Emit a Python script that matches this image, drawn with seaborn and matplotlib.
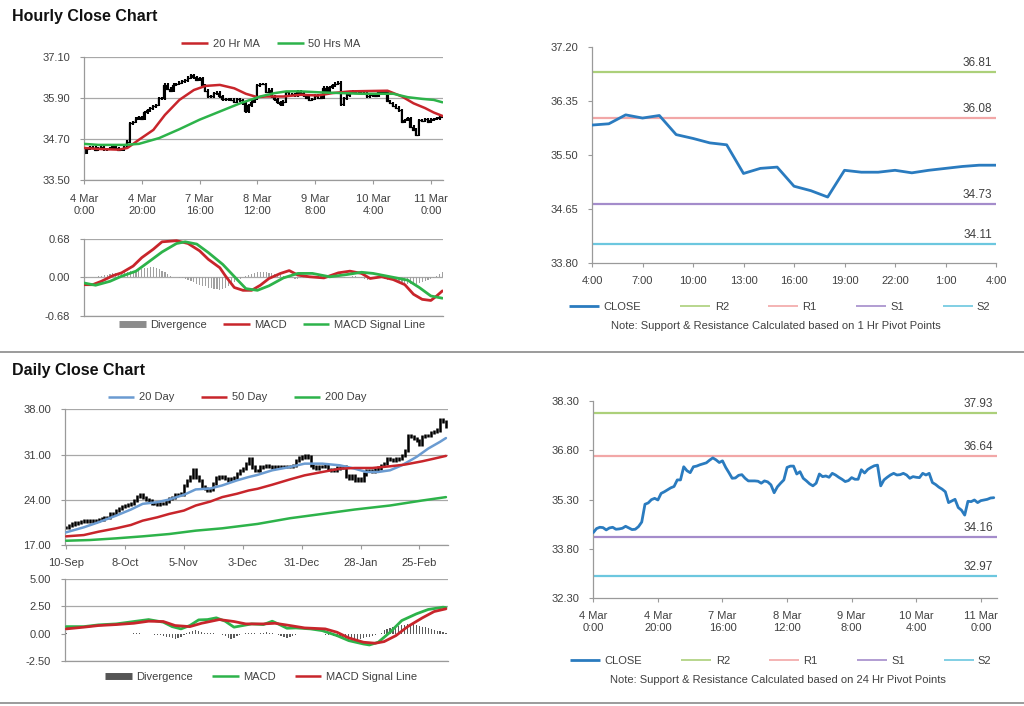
"""
Hourly and daily close charts: price bars with moving averages, MACD panels
and pivot-point support/resistance levels.
"""

import matplotlib
matplotlib.use('Agg')
import matplotlib.pyplot as plt
import seaborn as sns
import numpy as np
from matplotlib.lines import Line2D

# ---------------------------------------------------------------- data
# hourly closes, 4 Mar 0:00 -> 11 Mar 4:00 (one value per trading hour)
hourly_close = [
    34.30, 34.42, 34.46, 34.45, 34.38, 34.44, 34.46, 34.40, 34.41, 34.43,
    34.49, 34.44, 34.39, 34.40, 34.48, 34.62, 35.16, 35.20, 35.30, 35.34,
    35.29, 35.49, 35.54, 35.60, 35.66, 35.70, 35.90, 35.90, 36.30, 36.18,
    36.12, 36.30, 36.32, 36.36, 36.39, 36.42, 36.50, 36.57, 36.51, 36.43,
    36.48, 36.28, 36.12, 35.95, 35.96, 36.04, 36.06, 35.95, 35.87, 35.87,
    35.87, 35.86, 35.80, 35.87, 35.84, 35.75, 35.51, 35.69, 35.80, 35.90,
    36.28, 36.32, 36.32, 36.08, 36.15, 35.95, 35.87, 35.78, 35.72, 35.80,
    36.08, 36.00, 36.02, 35.98, 36.10, 36.05, 35.98, 35.92, 35.85, 35.88,
    35.97, 35.92, 35.92, 36.21, 36.11, 36.22, 36.28, 36.33, 36.35, 35.72,
    35.90, 35.98, 36.05, 36.10, 36.05, 36.06, 36.10, 36.05, 35.95, 36.00,
    35.98, 35.97, 36.10, 36.05, 36.10, 35.82, 35.76, 35.68, 35.62, 35.54,
    35.21, 35.26, 35.31, 35.06, 34.98, 34.83, 35.25, 35.24, 35.29, 35.21,
    35.27, 35.29, 35.31, 35.35, 35.36]
hourly_ticks = [0, 20, 40, 60, 80, 100, 120]
hourly_labels = ['4 Mar\n0:00', '4 Mar\n20:00', '7 Mar\n16:00', '8 Mar\n12:00',
                 '9 Mar\n8:00', '10 Mar\n4:00', '11 Mar\n0:00']

ma20_x = [0, 5, 12, 15, 19, 24, 28, 33, 38, 42, 47, 52, 56, 60, 63, 69, 75, 81,
          86, 92, 98, 105, 110, 114, 118, 121, 124]
ma20 = [34.44, 34.41, 34.39, 34.44, 34.68, 34.97, 35.41, 35.85, 36.14, 36.26,
        36.29, 36.19, 36.03, 35.93, 35.95, 35.95, 36.00, 35.98, 36.05, 36.10,
        36.11, 36.12, 35.95, 35.75, 35.61, 35.48, 35.38]
ma50_x = [0, 5, 14, 19, 26, 33, 40, 47, 54, 61, 66, 70, 75, 82, 89, 96, 103,
          107, 112, 117, 121, 124]
ma50 = [34.56, 34.53, 34.53, 34.56, 34.73, 34.99, 35.27, 35.51, 35.75, 35.95,
        36.05, 36.10, 36.10, 36.07, 36.05, 36.03, 36.03, 36.03, 35.93, 35.88,
        35.85, 35.78]

macd_h_x = [0, 3, 6, 10, 13, 17, 20, 24, 27, 32, 36, 40, 43, 47, 49, 52, 55, 58,
            61, 64, 68, 71, 74, 78, 83, 88, 92, 96, 99, 103, 107, 111, 114, 117,
            120, 122, 124]
macd_h = [-0.13, -0.13, -0.07, 0.03, 0.08, 0.20, 0.35, 0.50, 0.63, 0.65, 0.60,
          0.47, 0.32, 0.17, 0.02, -0.18, -0.23, -0.23, -0.14, -0.02, 0.07, 0.12,
          0.04, 0.01, -0.01, 0.08, 0.11, 0.07, -0.02, 0.01, -0.04, -0.13, -0.30,
          -0.39, -0.41, -0.33, -0.24]
signal_h_x = [0, 4, 9, 13, 18, 22, 27, 32, 35, 39, 43, 48, 53, 56, 60, 64, 69,
              74, 79, 85, 91, 96, 100, 106, 112, 116, 120, 124]
signal_h = [-0.10, -0.14, -0.07, 0.02, 0.11, 0.26, 0.45, 0.60, 0.63, 0.59, 0.44,
            0.23, -0.04, -0.20, -0.23, -0.15, -0.01, 0.07, 0.07, 0.01, 0.05,
            0.09, 0.07, 0.01, -0.05, -0.18, -0.33, -0.37]
diverg_h = [
    0.01, -0.01, 0.01, 0.0, 0.01, 0.02, 0.02,
    0.04, 0.05, 0.06, 0.07, 0.07, 0.08,
    0.08, 0.09, 0.10, 0.11, 0.12, 0.13, 0.14,
    0.15, 0.16, 0.17, 0.18, 0.18, 0.17, 0.15,
    0.12, 0.09, 0.06, 0.03,
    0.01, 0.0, -0.01, -0.02, -0.03,
    -0.05, -0.07, -0.09, -0.11, -0.13, -0.15, -0.16,
    -0.18, -0.19, -0.20, -0.21, -0.22, -0.21, -0.19, -0.16,
    -0.13, -0.09, -0.06, -0.03,
    0.0, 0.02, 0.04, 0.06,
    0.08, 0.09, 0.10, 0.10, 0.09, 0.08, 0.07,
    0.06, 0.05, 0.04, 0.03, 0.02,
    -0.01, -0.02, -0.03, -0.03, -0.02, -0.02, -0.01,
    0.0, 0.01, 0.01, 0.02, 0.02, 0.01, 0.0, 0.01, 0.02, 0.02, 0.01, 0.0,
    -0.01, 0.0, 0.01, 0.02, 0.02, 0.01,
    -0.02, -0.03, -0.04, -0.03, -0.02,
    -0.01, -0.01, -0.02, -0.03, -0.04,
    -0.05, -0.06, -0.07, -0.08, -0.09, -0.10, -0.11, -0.12, -0.12, -0.11,
    -0.10, -0.09, -0.07,
    -0.05, -0.03, -0.01,
    0.03, 0.06, 0.09]

# last 24 hours, 4:00 -> 4:00
day_hours = list(range(25))
day_close = [35.97, 35.99, 36.13, 36.08, 36.12, 35.82, 35.76, 35.69, 35.66,
             35.21, 35.29, 35.31, 35.01, 34.94, 34.84, 35.26, 35.23, 35.23,
             35.26, 35.22, 35.26, 35.29, 35.32, 35.34, 35.34]
day_ticks = [0, 3, 6, 9, 12, 15, 18, 21, 24]
day_labels = ['4:00', '7:00', '10:00', '13:00', '16:00', '19:00', '22:00',
              '1:00', '4:00']

pivot_names = ['R2', 'R1', 'S1', 'S2']
pivot_1h = [36.81, 36.08, 34.73, 34.11]
pivot_24h = [37.93, 36.64, 34.16, 32.97]

# daily closes, 10 Sep -> early Mar
daily_close = [
    19.74, 20.00, 20.26, 20.40, 20.52, 20.62, 20.70, 20.77, 20.67, 20.70,
    20.77, 20.90, 21.03, 21.20, 21.29, 21.81, 21.92, 22.30, 22.59, 23.00,
    23.11, 23.21, 23.37, 23.89, 24.56, 24.77, 24.41, 24.10, 23.89, 23.47,
    23.37, 23.26, 23.47, 23.47, 23.73, 24.15, 24.41, 24.77, 24.77, 24.90,
    26.22, 27.00, 27.52, 28.60, 27.52, 27.00, 25.96, 25.70, 25.44, 25.60,
    26.48, 27.36, 27.52, 27.52, 27.26, 27.00, 27.26, 27.50, 28.04, 28.56,
    28.81, 29.59, 30.37, 29.07, 28.56, 28.56, 29.07, 29.20, 29.33, 29.20,
    29.07, 29.18, 29.18, 29.18, 29.10, 29.18, 29.20, 29.33, 30.11, 30.47,
    30.63, 30.89, 30.63, 29.33, 29.07, 28.81, 29.18, 29.20, 29.33, 28.71,
    28.60, 28.56, 28.92, 29.00, 29.07, 27.67, 27.36, 27.67, 27.00, 27.20,
    27.00, 28.00, 28.56, 28.50, 28.40, 28.60, 28.92, 29.33, 29.60, 30.37,
    30.21, 30.11, 30.30, 30.37, 30.89, 31.67, 34.00, 33.74, 33.48, 33.22,
    32.60, 33.74, 34.00, 34.00, 34.40, 34.62, 34.78, 36.34, 36.08, 35.40]
daily_ticks = [0, 20, 40, 60, 80, 100, 120]
daily_labels = ['10-Sep', '8-Oct', '5-Nov', '3-Dec', '31-Dec', '28-Jan', '25-Feb']

ma20d_x = [0, 6, 11, 17, 22, 26, 31, 35, 40, 44, 49, 53, 58, 62, 65, 70, 76, 81,
           87, 93, 98, 102, 106, 110, 114, 119, 123, 127, 129]
ma20d = [18.96, 19.74, 20.52, 21.55, 22.49, 23.37, 23.63, 24.04, 24.77, 25.60,
         25.75, 26.22, 27.00, 27.52, 27.85, 28.56, 29.07, 29.59, 29.59, 29.33,
         28.81, 28.30, 28.30, 28.56, 29.33, 30.63, 31.93, 32.97, 33.55]
ma50d_x = [0, 6, 11, 17, 22, 26, 31, 35, 40, 44, 49, 53, 58, 62, 65, 70, 76, 81,
           87, 93, 98, 104, 110, 115, 121, 125, 129]
ma50d = [18.34, 18.54, 19.06, 19.58, 20.10, 20.77, 21.29, 21.81, 22.33, 23.11,
         23.73, 24.41, 24.93, 25.44, 25.70, 26.33, 27.15, 27.78, 28.30, 28.81,
         28.92, 28.92, 29.18, 29.44, 29.96, 30.37, 30.79]
ma200d_x = [0, 8, 17, 26, 35, 44, 53, 65, 76, 87, 98, 110, 121, 129]
ma200d = [17.66, 17.77, 18.03, 18.34, 18.70, 19.22, 19.58, 20.26, 21.14, 21.81,
          22.49, 23.11, 23.89, 24.41]

macd_d_x = [0, 6, 11, 17, 23, 28, 33, 36, 39, 42, 45, 48, 51, 54, 57, 60, 63, 67,
            70, 72, 75, 78, 83, 87, 92, 96, 101, 103, 106, 110, 114, 119, 123,
            128, 129]
macd_d = [0.64, 0.64, 0.80, 0.89, 1.11, 1.29, 1.05, 0.64, 0.43, 0.74, 1.26, 1.29,
          1.45, 1.14, 0.59, 0.74, 0.89, 0.83, 1.14, 0.89, 0.49, 0.52, 0.43, 0.27,
          -0.19, -0.65, -0.96, -1.05, -0.80, 0.12, 1.20, 1.82, 2.22, 2.43, 2.40]
signal_d_x = [0, 6, 11, 17, 23, 28, 33, 37, 42, 46, 52, 57, 61, 67, 71, 76, 81,
              88, 92, 96, 101, 105, 108, 112, 116, 121, 125, 129]
signal_d = [0.43, 0.59, 0.74, 0.83, 0.95, 1.14, 1.11, 0.74, 0.64, 0.95, 1.29,
            1.11, 0.89, 0.89, 0.95, 0.74, 0.52, 0.43, 0.12, -0.40, -0.80, -0.89,
            -0.74, -0.19, 0.64, 1.45, 2.03, 2.28]
diverg_d = [
    0.02, -0.02, -0.03, -0.03, -0.04, -0.04, -0.03, -0.04, -0.05, -0.04,
    -0.04, -0.05, -0.04, -0.03, -0.04, -0.05, -0.04, -0.03, -0.02, -0.03,
    -0.04, -0.03, -0.02, 0.02, 0.03, 0.02, -0.02, -0.04, -0.06, -0.08,
    -0.10, -0.13, -0.17, -0.22, -0.28, -0.35, -0.45, -0.50, -0.42, -0.30, -0.15,
    0.08, 0.18, 0.27, 0.30, 0.25, 0.15,
    0.06, 0.03, 0.02, 0.01, -0.02, -0.05, -0.12,
    -0.25, -0.38, -0.50, -0.42, -0.25,
    -0.10, -0.04, 0.02, 0.05, 0.04, 0.02, 0.0, 0.03, 0.07, 0.10,
    0.08, 0.04, -0.05, -0.12,
    -0.22, -0.32, -0.38, -0.32, -0.22, -0.12,
    -0.08, -0.06, -0.05, -0.06, -0.07, -0.06, -0.05, -0.06, -0.08, -0.10, -0.12,
    -0.15, -0.22, -0.28, -0.35, -0.42, -0.48, -0.52, -0.55, -0.58, -0.55,
    -0.50, -0.42, -0.35, -0.28, -0.20,
    -0.12, -0.05, 0.05,
    0.35, 0.45, 0.55, 0.62, 0.68, 0.72, 0.78, 0.82, 0.85, 0.88, 0.85, 0.80,
    0.72, 0.65, 0.58,
    0.50, 0.42, 0.35, 0.28, 0.20, 0.14, 0.08]

# ---------------------------------------------------------------- style
RED = '#c8252b'
GREEN = '#2db34a'
BLUE_MA = '#6a9bd1'
CLOSE_BLUE = '#2a7bbf'
LEVEL_COLORS = ['#acd07a', '#f2a7a7', '#a48ccb', '#6cc7df']
AXIS_GREY = '#9a9a9a'
GRID = '#a8a8a8'
TEXT = '#404040'

sns.set_theme(style='white')
plt.rcParams['font.family'] = ['Liberation Sans', 'DejaVu Sans']

W, H = 1024, 706
fig = plt.figure(figsize=(W / 100, H / 100), dpi=100)


def px_axes(left, top, right, bottom):
    """Axes placed by pixel edges of the 1024x706 canvas."""
    return fig.add_axes([left / W, 1 - bottom / H, (right - left) / W, (bottom - top) / H])


def style_axes(ax, grid=True):
    sns.despine(ax=ax, top=True, right=True)
    for side in ('left', 'bottom'):
        ax.spines[side].set_color(AXIS_GREY)
        ax.spines[side].set_linewidth(0.9)
    ax.tick_params(axis='both', length=3, width=0.8, color=AXIS_GREY,
                   labelsize=8, labelcolor=TEXT, left=True, bottom=True, pad=4)
    if grid:
        ax.yaxis.grid(True, color=GRID, lw=0.9)
    ax.set_axisbelow(True)


def add_legend(handles, labels, cx, cy, colsp, hl=2.4):
    fig.legend(handles, labels, loc='center', bbox_to_anchor=(cx / W, 1 - cy / H),
               ncol=len(handles), frameon=False, fontsize=8, handlelength=hl,
               handletextpad=0.4, columnspacing=colsp, borderpad=0,
               borderaxespad=0, labelcolor=TEXT)


def line(color, lw=1.8):
    return Line2D([], [], color=color, lw=lw, solid_capstyle='butt')


def price_bars(ax, x, close, pad, lw):
    close = np.asarray(close)
    prev = np.r_[close[0], close[:-1]]
    lo = np.minimum(prev, close) - pad
    hi = np.maximum(prev, close) + pad
    ax.vlines(x, lo, hi, color='black', lw=lw, zorder=2)


def pivot_panel(ax, x, close, levels, xlim, ylim, yticks, xticks, xlabels):
    for lvl, col in zip(levels, LEVEL_COLORS):
        ax.axhline(lvl, color=col, lw=1.6, zorder=1)
        ax.annotate(f'{lvl:.2f}', xy=(1, lvl), xycoords=('axes fraction', 'data'),
                    xytext=(-3, 2), textcoords='offset points', ha='right',
                    va='bottom', fontsize=8.5, color=TEXT)
    sns.lineplot(x=x, y=close, ax=ax, color=CLOSE_BLUE, lw=2, zorder=3)
    ax.set_xlim(*xlim)
    ax.set_ylim(*ylim)
    ax.set_yticks(yticks)
    ax.set_yticklabels([f'{v:.2f}' for v in yticks])
    ax.set_xticks(xticks)
    ax.set_xticklabels(xlabels, linespacing=1.25)
    ax.set_xlabel('')
    ax.set_ylabel('')
    style_axes(ax, grid=False)
    ax.tick_params(axis='y', pad=7)
    ax.tick_params(axis='x', pad=6)


# ---------------------------------------------------------------- hourly
hours = np.arange(len(hourly_close))

ax = px_axes(84, 57.3, 443, 180)
price_bars(ax, hours, hourly_close, 0.04, 1.5)
sns.lineplot(x=hours, y=hourly_close, ax=ax, color='black', lw=0.9,
             drawstyle='steps-mid', zorder=2)
sns.lineplot(x=ma20_x, y=ma20, ax=ax, color=RED, lw=1.8, zorder=3)
sns.lineplot(x=ma50_x, y=ma50, ax=ax, color=GREEN, lw=1.8, zorder=3)
ax.set_xlim(0, 124.2)
ax.set_ylim(33.5, 37.1)
yt = [33.50, 34.70, 35.90, 37.10]
ax.set_yticks(yt)
ax.set_yticklabels([f'{v:.2f}' for v in yt])
ax.set_xticks(hourly_ticks)
ax.set_xticklabels(hourly_labels, linespacing=1.25)
ax.set_xlabel('')
ax.set_ylabel('')
style_axes(ax)
ax.tick_params(axis='y', pad=7)
ax.tick_params(axis='x', pad=7)
add_legend([line(RED), line(GREEN)], ['20 Hr MA', '50 Hrs MA'], 271, 44, 1.6)

ax = px_axes(84, 239, 443, 315.7)
ax.bar(hours, diverg_h, width=0.4, color='#a0a0a0', linewidth=0, zorder=2)
sns.lineplot(x=macd_h_x, y=macd_h, ax=ax, color=RED, lw=2, zorder=3)
sns.lineplot(x=signal_h_x, y=signal_h, ax=ax, color=GREEN, lw=2, zorder=3)
ax.set_xlim(0, 124.2)
ax.set_ylim(-0.68, 0.68)
ax.set_yticks([-0.68, 0.0, 0.68])
ax.set_yticklabels(['-0.68', '0.00', '0.68'])
ax.set_xticks([])
ax.set_xlabel('')
ax.set_ylabel('')
style_axes(ax)
ax.tick_params(axis='y', pad=7)
add_legend([line('#8c8c8c', 5), line(RED), line(GREEN)],
           ['Divergence', 'MACD', 'MACD Signal Line'], 272, 325, 1.45)

# last 24 hours
ax = px_axes(592, 46.7, 996, 263.3)
pivot_panel(ax, day_hours, day_close, pivot_1h, (0, 24), (33.8, 37.2),
            [33.80, 34.65, 35.50, 36.35, 37.20], day_ticks, day_labels)
add_legend([line(CLOSE_BLUE, 2)] + [line(c, 1.2) for c in LEVEL_COLORS],
           ['CLOSE'] + pivot_names, 780, 306.5, 3.5, hl=2.7)
fig.text(776 / W, 1 - 326 / H,
         'Note: Support & Resistance Calculated based on 1 Hr Pivot Points',
         ha='center', va='center', fontsize=8, color=TEXT)

# ---------------------------------------------------------------- daily
days = np.arange(len(daily_close))

ax = px_axes(65, 409.3, 448.3, 545)
price_bars(ax, days, daily_close, 0.25, 1.8)
sns.lineplot(x=ma20d_x, y=ma20d, ax=ax, color=BLUE_MA, lw=1.8, zorder=3)
sns.lineplot(x=ma50d_x, y=ma50d, ax=ax, color=RED, lw=1.8, zorder=3)
sns.lineplot(x=ma200d_x, y=ma200d, ax=ax, color=GREEN, lw=1.8, zorder=3)
ax.set_xlim(-0.4, 129.8)
ax.set_ylim(17, 38)
yt = [17.0, 24.0, 31.0, 38.0]
ax.set_yticks(yt)
ax.set_yticklabels([f'{v:.2f}' for v in yt])
ax.set_xticks(daily_ticks)
ax.set_xticklabels(daily_labels)
ax.set_xlabel('')
ax.set_ylabel('')
style_axes(ax)
ax.tick_params(axis='y', pad=7)
ax.tick_params(axis='x', pad=6)
add_legend([line(BLUE_MA), line(RED), line(GREEN)],
           ['20 Day', '50 Day', '200 Day'], 237, 397.5, 2.4)

ax = px_axes(65, 579.3, 448.3, 660.7)
ax.bar(days, diverg_d, width=0.4, color='#5a5a5a', linewidth=0, zorder=2)
sns.lineplot(x=macd_d_x, y=macd_d, ax=ax, color=GREEN, lw=2, zorder=3)
sns.lineplot(x=signal_d_x, y=signal_d, ax=ax, color=RED, lw=2, zorder=3)
ax.set_xlim(-0.4, 129.8)
ax.set_ylim(-2.5, 5.0)
yt = [-2.5, 0.0, 2.5, 5.0]
ax.set_yticks(yt)
ax.set_yticklabels([f'{v:.2f}' for v in yt])
ax.set_xticks([])
ax.set_xlabel('')
ax.set_ylabel('')
style_axes(ax)
ax.get_ygridlines()[1].set_visible(False)
ax.tick_params(axis='y', pad=7)
add_legend([line('#555555', 5), line(GREEN), line(RED)],
           ['Divergence', 'MACD', 'MACD Signal Line'], 261, 676.5, 1.7)

# hourly close against 24 hr pivots
ax = px_axes(593.3, 401, 997, 598.3)
pivot_panel(ax, hours, hourly_close, pivot_24h, (0, 125), (32.3, 38.3),
            [32.30, 33.80, 35.30, 36.80, 38.30], hourly_ticks, hourly_labels)
add_legend([line(CLOSE_BLUE, 2)] + [line(c, 1.2) for c in LEVEL_COLORS],
           ['CLOSE'] + pivot_names, 781, 661, 3.5, hl=2.7)
fig.text(778 / W, 1 - 680 / H,
         'Note: Support & Resistance Calculated based on 24 Hr Pivot Points',
         ha='center', va='center', fontsize=8, color=TEXT)

# ---------------------------------------------------------------- frame
fig.text(12 / W, 1 - 16 / H, 'Hourly Close Chart', fontsize=11.5,
         fontweight='bold', va='center', color='#111111')
fig.text(12 / W, 1 - 370 / H, 'Daily Close Chart', fontsize=11.5,
         fontweight='bold', va='center', color='#111111')
for ypx in (352, 703):
    fig.add_artist(Line2D([0, 1], [1 - ypx / H] * 2, transform=fig.transFigure,
                          color='#8a8a8a', lw=1.2))

fig.savefig('out.png', dpi=100, facecolor='white')
